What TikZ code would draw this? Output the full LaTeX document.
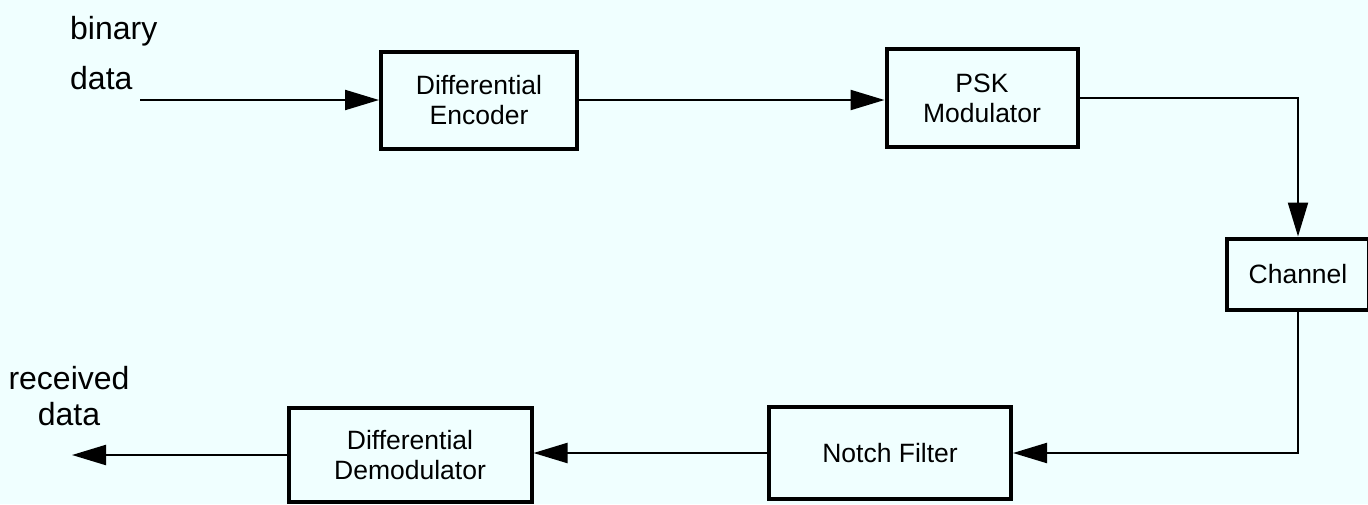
\documentclass[tikz,border=0pt]{standalone}
\usepackage{fontspec}
\setmainfont{Liberation Sans}
\usepackage{xcolor}
\usetikzlibrary{arrows.meta}
\definecolor{paper}{RGB}{240,255,255}
\tikzset{
    block/.style={
        draw,
        line width=4pt,
        fill=paper,
        align=center,
        inner sep=0pt,
        font=\fontsize{26.5}{30}\selectfont
    },
    flow/.style={
        draw,
        line width=2.2pt,
        -{Triangle[length=34pt, width=20pt]}
    },
    tag/.style={font=\fontsize{32}{36}\selectfont, inner sep=0pt}
}

\begin{document}
\begin{tikzpicture}[x=1pt, y=-1pt]
    % Background
    \fill[paper] (0,0) rectangle (1368,504);
    \useasboundingbox (0,0) rectangle (1368,504);

    % Blocks - transmitter
    \node[block, minimum width=196pt, minimum height=97pt] (enc) at (479,100) {Differential\\Encoder};
    \node[block, minimum width=191pt, minimum height=98pt] (psk) at (982,98) {PSK\\Modulator};
    \node[block, minimum width=142pt, minimum height=71pt] (chan) at (1298,274) {Channel};
    % Blocks - receiver
    \node[block, minimum width=242pt, minimum height=92pt] (notch) at (890,453) {Notch Filter};
    \node[block, minimum width=243pt, minimum height=94pt] (demod) at (410,455) {Differential\\Demodulator};

    % Labels
    \node[tag, anchor=west] (bin) at (70,31) {binary};
    \node[tag, anchor=west] (bdata) at (70,78) {data};
    \node[tag, align=center] (recv) at (69,396) {received\\data};

    % Free ends
    \coordinate (in) at (140,100);
    \coordinate (out) at (72,455);

    % Connectors
    \draw[flow] (in) -- (enc.west);
    \draw[flow] (enc.east) -- (psk.west |- enc.east);
    \draw[flow] (psk.east) -| (chan.north);
    \draw[flow] (chan.south) |- (notch.east);
    \draw[flow] (notch.west) -- (demod.east |- notch.west);
    \draw[flow] (demod.west) -- (out);
\end{tikzpicture}
\end{document}
